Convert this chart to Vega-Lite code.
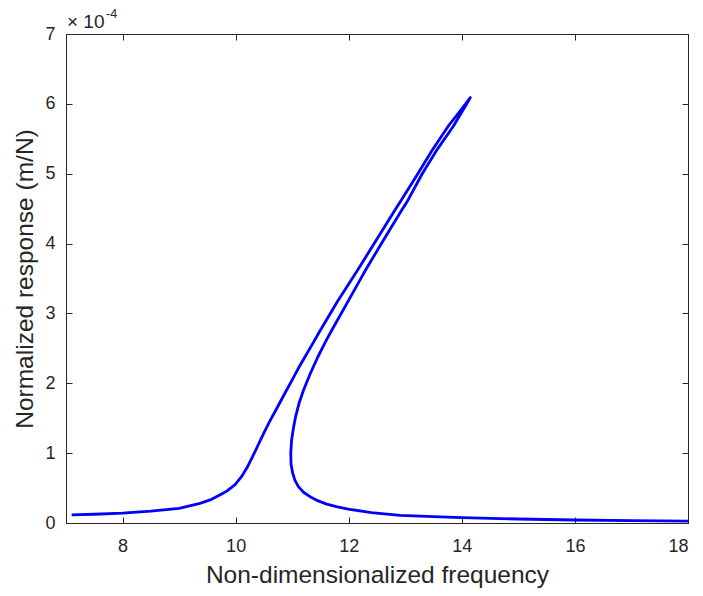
{
  "$schema": "https://vega.github.io/schema/vega-lite/v6.json",
  "autosize": "none",
  "width": 622,
  "height": 489,
  "padding": {"left": 66, "top": 34, "right": 15, "bottom": 73},
  "background": "white",
  "config": {
    "view": {"stroke": "#262626", "strokeWidth": 1},
    "font": "Liberation Sans",
    "axis": {
      "grid": false,
      "domainColor": "#262626",
      "tickColor": "#262626",
      "tickSize": -6,
      "labelColor": "#262626",
      "titleColor": "#262626",
      "labelFont": "Liberation Sans",
      "titleFont": "Liberation Sans",
      "labelFontSize": 18,
      "titleFontSize": 24.5,
      "titleFontWeight": "normal"
    }
  },
  "datasets": {
    "curve": [
      {"i": 1, "f": 7.1, "r": 0.115},
      {"i": 2, "f": 7.5, "r": 0.125},
      {"i": 3, "f": 8.0, "r": 0.14},
      {"i": 4, "f": 8.5, "r": 0.17},
      {"i": 5, "f": 9.0, "r": 0.21},
      {"i": 6, "f": 9.37, "r": 0.28},
      {"i": 7, "f": 9.55, "r": 0.33},
      {"i": 8, "f": 9.72, "r": 0.4},
      {"i": 9, "f": 9.85, "r": 0.46},
      {"i": 10, "f": 9.99, "r": 0.55},
      {"i": 11, "f": 10.1, "r": 0.66},
      {"i": 12, "f": 10.2, "r": 0.79},
      {"i": 13, "f": 10.3, "r": 0.95},
      {"i": 14, "f": 10.4, "r": 1.12},
      {"i": 15, "f": 10.5, "r": 1.29},
      {"i": 16, "f": 10.6, "r": 1.45},
      {"i": 17, "f": 10.7, "r": 1.6},
      {"i": 18, "f": 10.8, "r": 1.75},
      {"i": 19, "f": 10.9, "r": 1.9},
      {"i": 20, "f": 11.0, "r": 2.05},
      {"i": 21, "f": 11.1, "r": 2.2},
      {"i": 22, "f": 11.22, "r": 2.37},
      {"i": 23, "f": 11.35, "r": 2.55},
      {"i": 24, "f": 11.47, "r": 2.72},
      {"i": 25, "f": 11.8, "r": 3.17},
      {"i": 26, "f": 12.15, "r": 3.61},
      {"i": 27, "f": 12.48, "r": 4.04},
      {"i": 28, "f": 12.81, "r": 4.47},
      {"i": 29, "f": 12.92, "r": 4.61},
      {"i": 30, "f": 13.2, "r": 4.97},
      {"i": 31, "f": 13.47, "r": 5.33},
      {"i": 32, "f": 13.75, "r": 5.67},
      {"i": 33, "f": 14.0, "r": 5.93},
      {"i": 34, "f": 14.15, "r": 6.09},
      {"i": 35, "f": 14.08, "r": 5.99},
      {"i": 36, "f": 13.85, "r": 5.68},
      {"i": 37, "f": 13.55, "r": 5.33},
      {"i": 38, "f": 13.3, "r": 5.0},
      {"i": 39, "f": 13.04, "r": 4.61},
      {"i": 40, "f": 12.93, "r": 4.47},
      {"i": 41, "f": 12.6, "r": 4.03},
      {"i": 42, "f": 12.29, "r": 3.61},
      {"i": 43, "f": 12.0, "r": 3.19},
      {"i": 44, "f": 11.7, "r": 2.76},
      {"i": 45, "f": 11.6, "r": 2.61},
      {"i": 46, "f": 11.455, "r": 2.38},
      {"i": 47, "f": 11.315, "r": 2.13},
      {"i": 48, "f": 11.2, "r": 1.9},
      {"i": 49, "f": 11.12, "r": 1.71},
      {"i": 50, "f": 11.06, "r": 1.52},
      {"i": 51, "f": 11.02, "r": 1.35},
      {"i": 52, "f": 10.99, "r": 1.19},
      {"i": 53, "f": 10.975, "r": 1.0},
      {"i": 54, "f": 10.98, "r": 0.84},
      {"i": 55, "f": 11.01, "r": 0.71},
      {"i": 56, "f": 11.05, "r": 0.61},
      {"i": 57, "f": 11.11, "r": 0.52},
      {"i": 58, "f": 11.2, "r": 0.44},
      {"i": 59, "f": 11.31, "r": 0.38},
      {"i": 60, "f": 11.45, "r": 0.32},
      {"i": 61, "f": 11.61, "r": 0.27},
      {"i": 62, "f": 11.8, "r": 0.23},
      {"i": 63, "f": 11.99, "r": 0.2},
      {"i": 64, "f": 12.4, "r": 0.15},
      {"i": 65, "f": 12.91, "r": 0.11},
      {"i": 66, "f": 13.5, "r": 0.09},
      {"i": 67, "f": 14.0, "r": 0.076},
      {"i": 68, "f": 15.0, "r": 0.057},
      {"i": 69, "f": 16.0, "r": 0.043},
      {"i": 70, "f": 17.0, "r": 0.034},
      {"i": 71, "f": 18.0, "r": 0.027}
    ],
    "exponent": [
      {"f": 7, "r": 7, "base": "× 10", "power": "-4"}
    ]
  },
  "layer": [
    {
      "data": {"name": "curve"},
      "mark": {"type": "line", "color": "#0000ff", "strokeWidth": 2.8, "interpolate": "linear", "strokeJoin": "round", "clip": true},
      "encoding": {
        "x": {
          "field": "f", "type": "quantitative",
          "scale": {"domain": [7, 18], "nice": false, "zero": false},
          "axis": {"orient": "bottom", "title": "Non-dimensionalized frequency", "values": [8, 10, 12, 14, 16, 18], "labelPadding": 20, "titlePadding": 8}
        },
        "y": {
          "field": "r", "type": "quantitative",
          "scale": {"domain": [0, 7], "nice": false},
          "axis": {"orient": "left", "title": "Normalized response (m/N)", "values": [0, 1, 2, 3, 4, 5, 6, 7], "labelPadding": 17, "titlePadding": 7}
        },
        "order": {"field": "i", "type": "quantitative"}
      }
    },
    {
      "data": {"name": "curve"},
      "mark": {"type": "line", "opacity": 0},
      "encoding": {
        "x": {
          "field": "f", "type": "quantitative",
          "axis": {"orient": "top", "title": null, "labels": false, "values": [8, 10, 12, 14, 16, 18]}
        },
        "y": {
          "field": "r", "type": "quantitative",
          "axis": {"orient": "right", "title": null, "labels": false, "values": [0, 1, 2, 3, 4, 5, 6, 7]}
        },
        "order": {"field": "i", "type": "quantitative"}
      }
    },
    {
      "data": {"name": "exponent"},
      "mark": {"type": "text", "align": "left", "baseline": "alphabetic", "fontSize": 19, "color": "#262626", "dx": 1, "dy": -6},
      "encoding": {
        "x": {"field": "f", "type": "quantitative", "axis": null},
        "y": {"field": "r", "type": "quantitative", "axis": null},
        "text": {"field": "base"}
      }
    },
    {
      "data": {"name": "exponent"},
      "mark": {"type": "text", "align": "left", "baseline": "alphabetic", "fontSize": 12.5, "color": "#262626", "dx": 40, "dy": -16},
      "encoding": {
        "x": {"field": "f", "type": "quantitative", "axis": null},
        "y": {"field": "r", "type": "quantitative", "axis": null},
        "text": {"field": "power"}
      }
    }
  ],
  "resolve": {"axis": {"x": "independent", "y": "independent"}}
}
